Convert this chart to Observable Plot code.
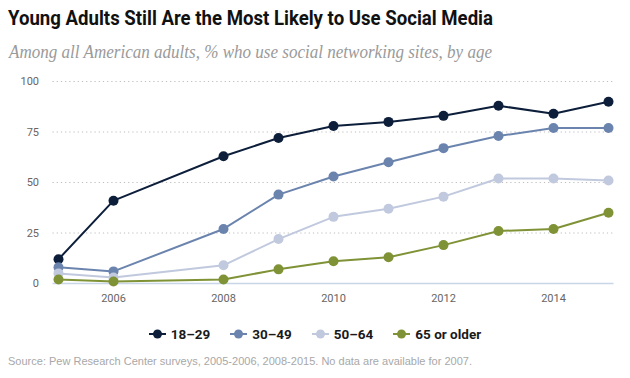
<!DOCTYPE html>
<html>
<head>
<meta charset="utf-8">
<script src="https://cdn.jsdelivr.net/npm/d3@7"></script>
<script src="https://cdn.jsdelivr.net/npm/@observablehq/plot@0.6"></script>
<style>
  html, body { margin: 0; padding: 0; background: #fff; width: 630px; height: 378px; overflow: hidden; }
  #wrap { position: relative; width: 630px; height: 378px; }
  .abs { position: absolute; white-space: nowrap; transform-origin: left top; }
  #title { left: 8px; top: 6px; font-family: Roboto, "Liberation Sans", sans-serif; font-weight: 700; font-size: 21px; color: #111; }
  #subtitle { left: 9px; top: 42px; font-family: "Liberation Serif", "DejaVu Serif", serif; font-style: italic; font-size: 18px; color: #9a9a9a; }
  #chart { position: absolute; left: 0; top: 68px; }
  #legend { position: absolute; left: 0; top: 326px; width: 630px; display: flex; justify-content: center; font-family: Roboto, "Liberation Sans", sans-serif; font-weight: 700; font-size: 13.5px; color: #1a1a1a; }
  #legend .item { display: flex; align-items: center; margin: 0 10px; }
  #legend svg { margin-right: 5px; }
  #source { left: 8px; top: 355px; font-family: "Liberation Sans", Arial, sans-serif; font-size: 11.5px; color: #a8a8a8; }
</style>
</head>
<body>
<div id="wrap">
  <div id="title" class="abs">Young Adults Still Are the Most Likely to Use Social Media</div>
  <div id="subtitle" class="abs">Among all American adults, % who use social networking sites, by age</div>
  <div id="chart"></div>
  <div id="legend"></div>
  <div id="source" class="abs">Source: Pew Research Center surveys, 2005-2006, 2008-2015. No data are available for 2007.</div>
</div>
<script>
const years = [2005, 2006, 2008, 2009, 2010, 2011, 2012, 2013, 2014, 2015];
const ages = ["18–29", "30–49", "50–64", "65 or older"];
const colors = ["#0c1e3a", "#6b84ae", "#c1c9de", "#7f9236"];
const age18_29 = [12, 41, 63, 72, 78, 80, 83, 88, 84, 90];
const age30_49 = [8, 6, 27, 44, 53, 60, 67, 73, 77, 77];
const age50_64 = [5, 3, 9, 22, 33, 37, 43, 52, 52, 51];
const age65plus = [2, 1, 2, 7, 11, 13, 19, 26, 27, 35];
const yTicks = [0, 25, 50, 75, 100];
const xTicks = [2006, 2008, 2010, 2012, 2014];

const series = [age18_29, age30_49, age50_64, age65plus];
const data = [];
series.forEach((vals, i) => vals.forEach((v, j) => data.push({year: years[j], value: v, age: ages[i]})));

const chart = Plot.plot({
  width: 630,
  height: 245,
  marginLeft: 52.5,
  marginRight: 16.5,
  marginTop: 13,
  marginBottom: 30,
  style: {fontFamily: "Roboto, 'Liberation Sans', sans-serif", fontSize: "11px", color: "#666", background: "#fff"},
  x: {domain: [2004.9, 2015.1]},
  y: {domain: [0, 100]},
  color: {domain: ages, range: colors},
  marks: [
    Plot.ruleY(yTicks.filter(d => d > 0), {stroke: "#bdbdbd", strokeDasharray: "1.2,3", strokeWidth: 1}),
    Plot.ruleY([0], {stroke: "#c8d6e8", strokeWidth: 1.5}),
    Plot.axisY({ticks: yTicks, tickSize: 0, tickPadding: 14, label: null, fill: "#6b6460"}),
    Plot.axisX({ticks: xTicks, tickSize: 0, tickPadding: 11, tickFormat: d => String(d), label: null, fill: "#666"}),
    Plot.line(data, {x: "year", y: "value", z: "age", stroke: "age", strokeWidth: 2}),
    Plot.dot(data, {x: "year", y: "value", fill: "age", r: 5})
  ]
});
document.getElementById("chart").appendChild(chart);

const legend = document.getElementById("legend");
ages.forEach((a, i) => {
  const item = document.createElement("div");
  item.className = "item";
  item.innerHTML = `<svg width="17" height="12"><line x1="0" x2="17" y1="6" y2="6" stroke="${colors[i]}" stroke-width="2"/><circle cx="8.5" cy="6" r="4.5" fill="${colors[i]}"/></svg><span>${a}</span>`;
  legend.appendChild(item);
});

function fit(id, target) {
  const el = document.getElementById(id);
  const w = el.getBoundingClientRect().width;
  el.style.transform = `scaleX(${target / w})`;
}
fit("title", 485);
fit("subtitle", 483);
fit("source", 464);
</script>
</body>
</html>
